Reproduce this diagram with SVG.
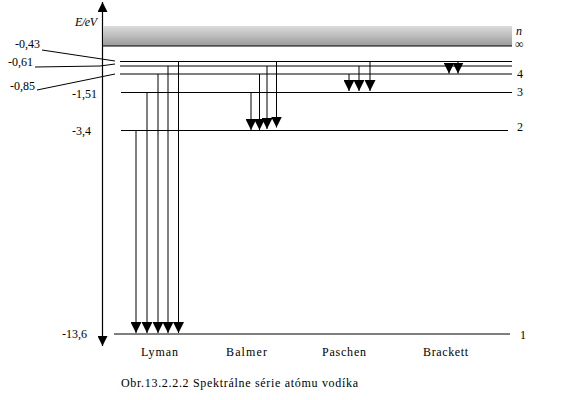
<svg xmlns="http://www.w3.org/2000/svg" width="577" height="400" viewBox="0 0 577 400">
<style>
text{font-family:'Liberation Serif','DejaVu Serif','Times New Roman',serif;font-size:12px;fill:#000}
.it{font-style:italic}
.lv{stroke:#000;stroke-width:1.2;fill:none}
.tr{stroke:#000;stroke-width:1;fill:none;marker-end:url(#ah)}
.ld{stroke:#000;stroke-width:1;fill:none}
</style>
<defs>
<marker id="ah" markerUnits="userSpaceOnUse" markerWidth="11" markerHeight="11" refX="10" refY="5" orient="auto" viewBox="0 0 10 10">
<path d="M0,0 L10,5 L0,10 z" fill="#000"/>
</marker>
<marker id="ax" markerUnits="userSpaceOnUse" markerWidth="10" markerHeight="10" refX="10" refY="5" orient="auto-start-reverse" viewBox="0 0 10 10">
<path d="M0,0 L10,5 L0,10 z" fill="#000"/>
</marker>
<linearGradient id="band" x1="0" y1="0" x2="0" y2="1">
<stop offset="0" stop-color="#dcdcdc"/>
<stop offset="1" stop-color="#9a9a9a"/>
</linearGradient>
</defs>

<g id="axis">
<line x1="102.5" y1="346" x2="102.5" y2="2" stroke="#000" stroke-width="1.2" marker-start="url(#ax)" marker-end="url(#ax)"/>
<text class="it" x="75" y="26" textLength="22">E/eV</text>
</g>

<g id="continuum">
<rect x="103" y="26" width="409" height="20" fill="url(#band)"/>
<line class="lv" x1="103" y1="46" x2="512" y2="46"/>
<text class="it" x="516" y="35">n</text>
<text x="515" y="48" font-size="11">∞</text>
</g>

<g id="levels">
<line class="lv" x1="120" y1="61.5" x2="512" y2="61.5"/>
<line class="lv" x1="120" y1="66" x2="512" y2="66"/>
<line class="lv" x1="120" y1="74" x2="512" y2="74"/>
<line class="lv" x1="121" y1="92.5" x2="512" y2="92.5"/>
<line class="lv" x1="121" y1="130.5" x2="508" y2="130.5"/>
<line class="lv" x1="114" y1="334" x2="510" y2="334"/>
<text x="517" y="78">4</text>
<text x="517" y="96">3</text>
<text x="517" y="131">2</text>
<text x="520" y="339">1</text>
</g>

<g id="energy-labels">
<text x="15" y="48">-0,43</text>
<text x="8" y="66">-0,61</text>
<text x="10" y="90">-0,85</text>
<text x="72" y="98">-1,51</text>
<text x="72" y="135">-3,4</text>
<text x="62" y="338">-13,6</text>
<line class="ld" x1="42" y1="50" x2="115" y2="61"/>
<line class="ld" x1="35" y1="67" x2="100" y2="66"/>
<line class="ld" x1="100" y1="66" x2="115" y2="64"/>
<line class="ld" x1="37" y1="90" x2="115" y2="74"/>
</g>

<g id="connectors">
<line class="tr" x1="136" y1="130.5" x2="136" y2="333"/>
<line class="tr" x1="147" y1="92.5" x2="147" y2="333"/>
<line class="tr" x1="158" y1="74" x2="158" y2="333"/>
<line class="tr" x1="168" y1="66" x2="168" y2="333"/>
<line class="tr" x1="178.5" y1="61.5" x2="178.5" y2="333"/>

<line class="tr" x1="251" y1="92.5" x2="251" y2="130"/>
<line class="tr" x1="259.5" y1="74" x2="259.5" y2="130"/>
<line class="tr" x1="267" y1="66" x2="267" y2="129"/>
<line class="tr" x1="276.5" y1="61.5" x2="276.5" y2="127.5"/>

<line class="tr" x1="349" y1="74" x2="349" y2="91"/>
<line class="tr" x1="359" y1="66" x2="359" y2="91"/>
<line class="tr" x1="370" y1="61.5" x2="370" y2="91"/>

<line class="tr" x1="449" y1="66" x2="449" y2="73.5"/>
<line class="tr" x1="458" y1="61.5" x2="458" y2="73.5"/>
</g>

<g id="series-labels">
<text x="141" y="356" textLength="37">Lyman</text>
<text x="226" y="356" textLength="41">Balmer</text>
<text x="322" y="356" textLength="44">Paschen</text>
<text x="423" y="356" textLength="45">Brackett</text>
</g>

<g id="caption">
<text x="121" y="387" textLength="237" font-size="11">Obr.13.2.2.2 Spektrálne série atómu vodíka</text>
</g>
</svg>
